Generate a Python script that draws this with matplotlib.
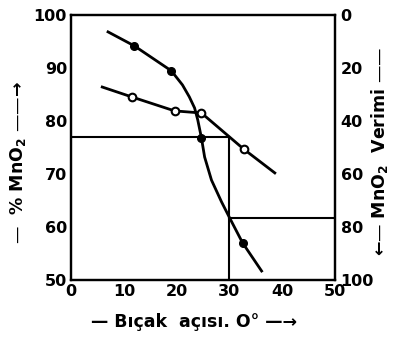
import numpy as np
import matplotlib
matplotlib.use('Agg')
import matplotlib.pyplot as plt

# blade angle (x), % MnO2 (left axis) - open circles
grade_line_x = [5.9, 11.6, 19.6, 24.7, 32.7, 38.6]
grade_line_y = [86.4, 84.5, 81.9, 81.5, 74.7, 70.2]
grade_pts_x = [11.6, 19.6, 24.7, 32.7]
grade_pts_y = [84.5, 81.9, 81.5, 74.7]

# blade angle (x), MnO2 Verimi (right axis, inverted) - filled circles
rec_line_x = [7.0, 12.0, 19.0, 21.1, 22.4, 23.4, 24.0, 24.7, 25.3, 26.6, 28.5, 30.0, 32.5, 36.1]
rec_line_y = [6.4, 11.7, 21.1, 26.4, 30.9, 35.1, 39.6, 46.4, 53.6, 62.3, 70.5, 76.4, 86.0, 96.6]
rec_pts_x = [12.0, 19.0, 24.7, 32.5]
rec_pts_y = [11.7, 21.1, 46.4, 86.0]

# reading construction lines
grade_level = 77.0
angle_read = 30.0
rec_level = 76.6

xticks = [0, 10, 20, 30, 40, 50]
yticks_left = [50, 60, 70, 80, 90, 100]
yticks_right = [0, 20, 40, 60, 80, 100]

plt.rcParams['font.family'] = 'DejaVu Sans'
plt.rcParams['font.weight'] = 'bold'

fig = plt.figure(figsize=(3.95, 3.39), dpi=100)
ax = fig.add_axes([0.180, 0.174, 0.668, 0.782])
ax2 = ax.twinx()

ax.set_xlim(0, 50)
ax.set_ylim(50, 100)
ax2.set_ylim(100, 0)

ax.set_xticks(xticks)
ax.set_yticks(yticks_left)
ax2.set_yticks(yticks_right)
for a in (ax, ax2):
    a.tick_params(length=0, labelsize=11.5, pad=3)
    for s in a.spines.values():
        s.set_linewidth(1.6)
ax2.tick_params(axis='y', pad=4)
for lbl in ax2.get_yticklabels():
    lbl.set_verticalalignment('center_baseline')

# curves
ax.plot(grade_line_x, grade_line_y, color='black', lw=2.0, zorder=3, solid_joinstyle='round')
ax.plot(grade_pts_x, grade_pts_y, 'o', ms=5.5, mfc='white', mec='black', mew=1.5, zorder=4)
ax2.plot(rec_line_x, rec_line_y, color='black', lw=2.0, zorder=3, solid_joinstyle='round')
ax2.plot(rec_pts_x, rec_pts_y, 'o', ms=5.5, color='black', zorder=4)

# construction lines
ax.plot([0, angle_read], [grade_level, grade_level], color='black', lw=1.5)
ax.plot([angle_read, angle_read], [50, grade_level], color='black', lw=1.5)
ax2.plot([angle_read, 50], [rec_level, rec_level], color='black', lw=1.5)

fig.text(0.046, 0.52, '—  % MnO$_2$ ——→', rotation=90, ha='center', va='center', fontsize=12.5)
fig.text(0.960, 0.555, '←— MnO$_2$  Verimi ——', rotation=90, ha='center', va='center', fontsize=12.5)
fig.text(0.49, 0.05, '— Bıçak  açısı. O° —→', ha='center', va='center', fontsize=12.5)

fig.savefig('out.png', dpi=100)
